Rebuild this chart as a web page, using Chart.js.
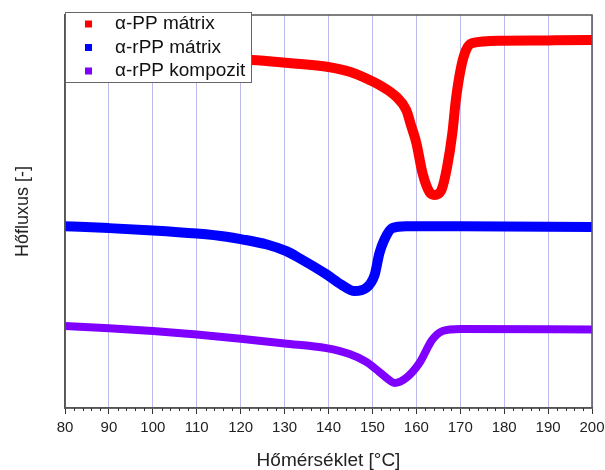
<!DOCTYPE html>
<html>
<head>
<meta charset="utf-8">
<script src="https://cdn.jsdelivr.net/npm/chart.js@4/dist/chart.umd.min.js"></script>
<style>
  html, body { margin: 0; padding: 0; background: #fff; }
  #wrap { width: 605px; height: 470px; }
</style>
</head>
<body>
<div id="wrap"><canvas id="dsc"></canvas></div>
<script>
// DSC curves, values (heat flux in arbitrary units)
const LABELS = ['α-PP mátrix', 'α-rPP mátrix', 'α-rPP kompozit'];
const COLORS = ['#ff0000', '#0000ff', '#8000ff'];

const T_PP = [80, 100, 110, 122.5, 131, 140, 145, 149.3, 151.6, 155.5, 157.7, 158.9, 160, 161.4, 163, 164.1, 165.7, 167, 168.2, 169, 170.2, 171.3, 172.7, 179.5, 190, 200];
const Q_PP = [89.5, 89.1, 88.8, 88.5, 87.7, 86.7, 85.4, 83.4, 82.1, 79.0, 75.7, 71.4, 67.3, 59.6, 54.7, 54.0, 55.2, 61.1, 69.8, 78.3, 86.7, 91.0, 92.8, 93.4, 93.5, 93.6];

const T_RPP = [80, 90, 100, 110, 116.8, 120, 126, 130.4, 133.4, 139.5, 143, 145.9, 148.6, 150.5, 151.6, 152.7, 154.5, 157.7, 170, 200];
const Q_RPP = [46.0, 45.5, 44.9, 44.1, 43.3, 42.7, 41.3, 39.6, 37.8, 33.7, 31.0, 29.4, 30.2, 33.5, 39.1, 42.5, 45.5, 46.0, 46.0, 45.8];

const T_KOMP = [80, 90, 100, 110, 120, 130, 139.5, 144.8, 148.6, 151.6, 153.9, 155, 157.7, 160.7, 163.6, 166, 170, 200];
const Q_KOMP = [20.5, 19.9, 19.2, 18.3, 17.2, 16.0, 14.8, 13.3, 11.3, 8.7, 6.6, 5.9, 7.2, 11.0, 16.9, 19.2, 19.7, 19.6];

const X_TICKS = [80, 90, 100, 110, 120, 130, 140, 150, 160, 170, 180, 190, 200];

const FONT = '"Liberation Sans", Arial, sans-serif';
const AXIS_COLOR = '#555';

const toPoints = (xs, ys) => xs.map((x, i) => ({ x: x, y: ys[i] }));

// frame, minor ticks and the boxed legend on top of the curves
const decorPlugin = {
    id: 'decor',
    afterDatasetsDraw(chart) {
        const ctx = chart.ctx;
        const a = chart.chartArea;
        const xs = chart.scales.x;
        ctx.save();
        ctx.strokeStyle = AXIS_COLOR;
        ctx.lineWidth = 1.5;
        ctx.strokeRect(a.left, a.top, a.right - a.left, a.bottom - a.top);

        ctx.strokeStyle = '#333';
        ctx.lineWidth = 1;
        for (let v = 80; v <= 200; v += 2) {
            if (v % 10 === 0) continue;
            const px = Math.round(xs.getPixelForValue(v)) + 0.5;
            ctx.beginPath();
            ctx.moveTo(px, a.bottom);
            ctx.lineTo(px, a.bottom + 3);
            ctx.stroke();
        }

        // legend box
        const bx = a.left, by = 12, bw = 186, bh = 70;
        ctx.fillStyle = '#fff';
        ctx.fillRect(bx, by, bw, bh);
        ctx.strokeStyle = '#666';
        ctx.lineWidth = 1;
        ctx.strokeRect(bx + 0.5, by + 0.5, bw, bh);
        ctx.font = '19px ' + FONT;
        ctx.textBaseline = 'middle';
        chart.data.datasets.forEach((ds, i) => {
            const cy = 24 + i * 23.5;
            ctx.fillStyle = ds.borderColor;
            ctx.fillRect(bx + 20, cy - 3.5, 7, 7);
            ctx.fillStyle = '#111';
            ctx.fillText(ds.label, bx + 50, cy);
        });
        ctx.restore();
    }
};

new Chart(document.getElementById('dsc'), {
    type: 'line',
    data: {
        datasets: [
            { label: LABELS[0], data: toPoints(T_PP, Q_PP), borderColor: COLORS[0], borderWidth: 10 },
            { label: LABELS[1], data: toPoints(T_RPP, Q_RPP), borderColor: COLORS[1], borderWidth: 10 },
            { label: LABELS[2], data: toPoints(T_KOMP, Q_KOMP), borderColor: COLORS[2], borderWidth: 8 }
        ]
    },
    options: {
        responsive: true,
        maintainAspectRatio: false,
        animation: false,
        layout: { padding: { top: 15, right: 13, left: 0, bottom: 0 } },
        elements: {
            point: { radius: 0 },
            line: { tension: 0.4, cubicInterpolationMode: 'monotone', fill: false, borderJoinStyle: 'round' }
        },
        plugins: {
            legend: { display: false },
            tooltip: { enabled: false }
        },
        scales: {
            x: {
                type: 'linear',
                min: 80,
                max: 200,
                afterBuildTicks: (scale) => { scale.ticks = X_TICKS.map(v => ({ value: v })); },
                afterFit: (scale) => {
                    scale.height = 62;
                    scale.paddingLeft = 0;
                    scale.paddingRight = 0;
                },
                ticks: {
                    autoSkip: false,
                    maxRotation: 0,
                    padding: 5,
                    color: '#222',
                    font: { family: FONT, size: 15 }
                },
                grid: {
                    color: 'rgba(140, 140, 230, 0.6)',
                    lineWidth: 1,
                    tickColor: '#333',
                    tickLength: 6,
                    tickWidth: 1
                },
                border: { color: AXIS_COLOR, width: 1.5 },
                title: {
                    display: true,
                    text: 'Hőmérséklet [°C]',
                    color: '#222',
                    padding: { top: 0, bottom: 0 },
                    font: { family: FONT, size: 19, lineHeight: 1 }
                }
            },
            y: {
                min: -0.5,
                max: 100,
                afterFit: (scale) => { scale.width = 65; },
                ticks: { display: false },
                grid: { display: false },
                border: { color: AXIS_COLOR, width: 1.5 },
                title: {
                    display: true,
                    text: 'Hőfluxus [-]',
                    color: '#222',
                    padding: { top: 12, bottom: 0 },
                    font: { family: FONT, size: 18 }
                }
            }
        }
    },
    plugins: [decorPlugin]
});
</script>
</body>
</html>
